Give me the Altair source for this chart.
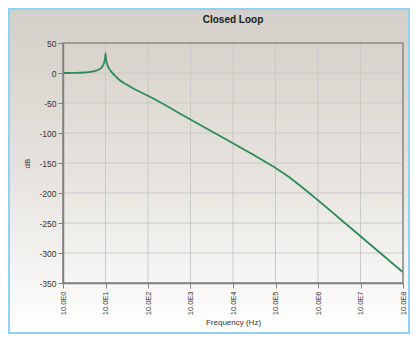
import altair as alt
import pandas as pd

# ---- data ----
freq_hz = [1, 2, 3, 4, 5, 6, 7, 8, 9, 9.5, 9.8, 10, 10.2, 10.5, 11, 12, 14, 17, 20, 30, 50,
           100, 1000, 1e4, 3.16e4, 5e4, 1e5, 2e5, 3e5, 5e5, 1e6, 3.16e6, 1e7, 1e8]
gain_db = [0, 0.3, 0.8, 1.5, 2.5, 3.9, 5.8, 8.8, 14.5, 20, 26, 33, 26, 20, 14, 8, 1.5, -5, -10, -18.5, -27.5,
           -38, -77.5, -117, -137.1, -145.3, -158.2, -172.5, -182.1, -194.5, -212.1, -242, -272, -332]
x_ticks = [1, 10, 100, 1e3, 1e4, 1e5, 1e6, 1e7, 1e8]
y_ticks = [50, 0, -50, -100, -150, -200, -250, -300, -350]
chart_title = "Closed Loop"
x_title = "Frequency (Hz)"
y_title = "dB"

W, H = 340, 240
PL, PT, PR, PB = 55, 35, 7, 51
FONT = "Liberation Sans"

df = pd.DataFrame({"f": freq_hz, "db": gain_db})
xgrid = pd.DataFrame({"f": x_ticks})
ygrid = pd.DataFrame({"db": y_ticks})
tdf = pd.DataFrame({"t": [chart_title]})

xs = alt.Scale(type="log", domain=[1, 1e8], nice=False)
ys = alt.Scale(domain=[-350, 50], nice=False, zero=False)

X = alt.X("f:Q", scale=xs, axis=alt.Axis(
    values=x_ticks, labelExpr="'10.0E' + round(log(datum.value)/LN10)",
    labelAngle=270, labelAlign="right", labelBaseline="middle", labelFontSize=7.5,
    labelColor="#333333", labelFont=FONT, labelPadding=3,
    grid=False, domainColor="#808080", domainWidth=1.5, tickColor="#808080", tickSize=5,
    title=x_title, titleFont=FONT, titleFontSize=8, titleFontWeight="normal", titleColor="#3a3040",
    titleX=W / 2, titleY=39, titleBaseline="middle", titleAlign="center", zindex=1))
Y = alt.Y("db:Q", scale=ys, axis=alt.Axis(
    values=y_ticks,
    labelExpr="datum.value < 0 ? '-' + abs(datum.value) : '' + datum.value",
    labelFontSize=8.5, labelColor="#333333", labelFont=FONT, labelPadding=2,
    grid=False, domainColor="#808080", domainWidth=1.5, tickColor="#808080", tickSize=5,
    title=y_title, titleFont=FONT, titleFontSize=8, titleFontWeight="normal", titleColor="#3a3040",
    titleX=-36, titleY=H / 2, titleAngle=270, titleBaseline="middle", titleAlign="center", zindex=1))

grad = alt.LinearGradient(gradient="linear",
                          stops=[alt.GradientStop(color="#d4cfc7", offset=0),
                                 alt.GradientStop(color="#e6e3de", offset=0.5),
                                 alt.GradientStop(color="#ffffff", offset=1)],
                          x1=0, x2=0, y1=0, y2=1)

bg = alt.Chart(pd.DataFrame({"a": [0]})).mark_rect(
    fill=grad, stroke="#8fd3f0", strokeWidth=2).encode(
    x=alt.value(-PL + 1), x2=alt.value(W + PR - 1),
    y=alt.value(-PT + 1), y2=alt.value(H + PB - 1))

vgrid = alt.Chart(xgrid).mark_rule(color="#c9c9c9", strokeWidth=1).encode(x=X)
hgrid = alt.Chart(ygrid).mark_rule(color="#c9c9c9", strokeWidth=1).encode(y=Y)

line = alt.Chart(df).mark_line(color="#2e8b57", strokeWidth=1.8, interpolate="monotone").encode(
    x=X, y=Y)

frame = alt.Chart(pd.DataFrame({"a": [0]})).mark_rect(
    fill="transparent", stroke="#8a8a8a", strokeWidth=1.5).encode(
    x=alt.value(0), x2=alt.value(W), y=alt.value(0), y2=alt.value(H))

title_mark = alt.Chart(tdf).mark_text(
    font=FONT, fontSize=10, fontWeight="bold", color="#1a1a1a",
    align="center", baseline="middle").encode(
    x=alt.value(W / 2), y=alt.value(-23.5), text="t:N")

chart = alt.layer(bg, vgrid, hgrid, line, frame, title_mark).properties(
    width=W, height=H,
    autosize=alt.AutoSizeParams(type="none"),
    padding={"left": PL, "top": PT, "right": PR, "bottom": PB},
    background="white",
).configure_view(stroke=None)

chart.save("out.html", embed_options={"renderer": "svg", "actions": False})
